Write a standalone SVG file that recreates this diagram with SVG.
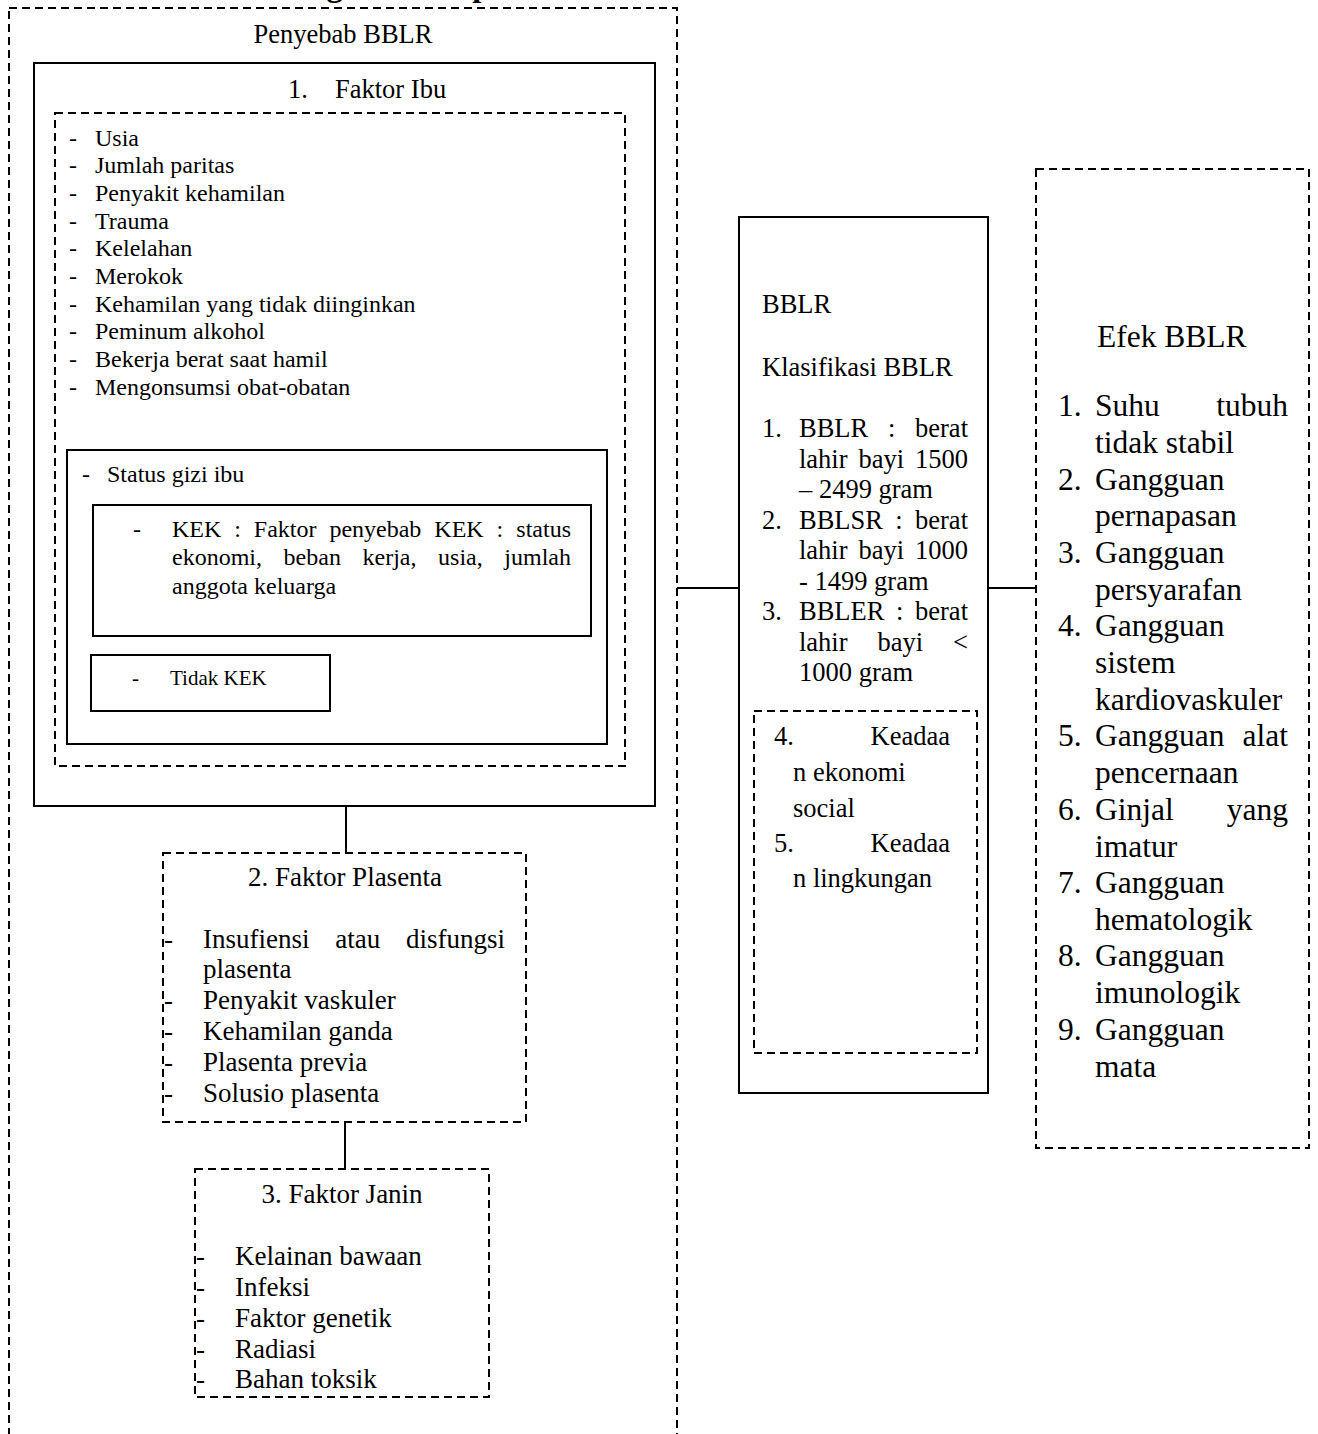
<svg xmlns="http://www.w3.org/2000/svg" width="1318" height="1434" viewBox="0 0 1318 1434">
<style>
text{font-family:"Liberation Serif","Times New Roman",serif;fill:#000}
.solid{fill:none;stroke:#000;stroke-width:2}
.dash{fill:none;stroke:#000;stroke-width:2;stroke-dasharray:8 5}
.conn{stroke:#000;stroke-width:2;fill:none}
.f24{font-size:24px}
.f265{font-size:26.5px}
.f27{font-size:27px}
.f21{font-size:21px}
.f315{font-size:31.5px}
.mid{text-anchor:middle}
.end{text-anchor:end}
</style>
<rect width="1318" height="1434" fill="#fff"/>
<text x="364" y="-4" class="mid" style="font-size:32.6px;font-weight:bold">Kerangka Konsep</text>

<g id="penyebab">
<rect class="dash" x="9" y="8" width="668" height="1450"/>
<text x="343" y="43" class="mid f265">Penyebab BBLR</text>
</g>

<g id="faktor-ibu">
<rect class="solid" x="34" y="63" width="621" height="743"/>
<text x="288" y="98" class="f265">1.</text>
<text x="335" y="98" class="f265">Faktor Ibu</text>
<rect class="dash" x="55" y="113" width="570" height="653"/>
<g class="f24">
<text x="69" y="145.5">-</text><text x="95" y="145.5">Usia</text>
<text x="69" y="173.2">-</text><text x="95" y="173.2">Jumlah paritas</text>
<text x="69" y="200.9">-</text><text x="95" y="200.9">Penyakit kehamilan</text>
<text x="69" y="228.6">-</text><text x="95" y="228.6">Trauma</text>
<text x="69" y="256.3">-</text><text x="95" y="256.3">Kelelahan</text>
<text x="69" y="284">-</text><text x="95" y="284">Merokok</text>
<text x="69" y="311.7">-</text><text x="95" y="311.7">Kehamilan yang tidak diinginkan</text>
<text x="69" y="339.4">-</text><text x="95" y="339.4">Peminum alkohol</text>
<text x="69" y="367.1">-</text><text x="95" y="367.1">Bekerja berat saat hamil</text>
<text x="69" y="394.8">-</text><text x="95" y="394.8">Mengonsumsi obat-obatan</text>
</g>
</g>

<g id="status-gizi">
<rect class="solid" x="67" y="450" width="540" height="294"/>
<text x="82" y="482" class="f24">-</text>
<text x="107" y="482" class="f24">Status gizi ibu</text>
</g>

<g id="kek">
<rect class="solid" x="93" y="505" width="498" height="131"/>
<g class="f24">
<text x="133" y="537">-</text>
<text x="172" y="537">KEK</text>
<text x="234.2" y="537">:</text>
<text x="253.8" y="537">Faktor</text>
<text x="329.4" y="537">penyebab</text>
<text x="434.3" y="537">KEK</text>
<text x="496.5" y="537">:</text>
<text x="571" y="537" class="end">status</text>
<text x="172" y="565">ekonomi,</text>
<text x="283.6" y="565">beban</text>
<text x="362.5" y="565">kerja,</text>
<text x="438.1" y="565">usia,</text>
<text x="571" y="565" class="end">jumlah</text>
<text x="172" y="594">anggota keluarga</text>
</g>
</g>

<g id="tidak-kek">
<rect class="solid" x="91" y="655" width="239" height="56"/>
<text x="132" y="685" class="f21">-</text>
<text x="170" y="685" class="f21">Tidak KEK</text>
</g>

<g id="faktor-plasenta">
<rect class="dash" x="163" y="853" width="363" height="269"/>
<text x="345" y="886" class="mid f27">2. Faktor Plasenta</text>
<g class="f27">
<text x="164" y="948">-</text>
<text x="203" y="948">Insufiensi</text>
<text x="335.3" y="948">atau</text>
<text x="505" y="948" class="end">disfungsi</text>
<text x="203" y="978">plasenta</text>
<text x="164" y="1009">-</text><text x="203" y="1009">Penyakit vaskuler</text>
<text x="164" y="1040">-</text><text x="203" y="1040">Kehamilan ganda</text>
<text x="164" y="1071">-</text><text x="203" y="1071">Plasenta previa</text>
<text x="164" y="1102">-</text><text x="203" y="1102">Solusio plasenta</text>
</g>
</g>

<g id="faktor-janin">
<rect class="dash" x="195" y="1169" width="294" height="228"/>
<text x="342" y="1203" class="mid f27">3. Faktor Janin</text>
<g class="f27">
<text x="196" y="1265">-</text><text x="235" y="1265">Kelainan bawaan</text>
<text x="196" y="1296">-</text><text x="235" y="1296">Infeksi</text>
<text x="196" y="1327">-</text><text x="235" y="1327">Faktor genetik</text>
<text x="196" y="1358">-</text><text x="235" y="1358">Radiasi</text>
<text x="196" y="1388">-</text><text x="235" y="1388">Bahan toksik</text>
</g>
</g>

<g id="bblr">
<rect class="solid" x="739" y="217" width="249" height="876"/>
<g class="f265">
<text x="762" y="313">BBLR</text>
<text x="762" y="376">Klasifikasi BBLR</text>
<text x="762" y="437">1.</text>
<text x="799" y="437">BBLR</text>
<text x="887.9" y="437">:</text>
<text x="968" y="437" class="end">berat</text>
<text x="799" y="467.5">lahir</text>
<text x="858.5" y="467.5">bayi</text>
<text x="968" y="467.5" class="end">1500</text>
<text x="799" y="498">– 2499 gram</text>
<text x="762" y="528.5">2.</text>
<text x="799" y="528.5">BBLSR</text>
<text x="895.3" y="528.5">:</text>
<text x="968" y="528.5" class="end">berat</text>
<text x="799" y="559">lahir</text>
<text x="858.5" y="559">bayi</text>
<text x="968" y="559" class="end">1000</text>
<text x="799" y="589.5">- 1499 gram</text>
<text x="762" y="620">3.</text>
<text x="799" y="620">BBLER</text>
<text x="896" y="620">:</text>
<text x="968" y="620" class="end">berat</text>
<text x="799" y="650.5">lahir</text>
<text x="877.5" y="650.5">bayi</text>
<text x="968" y="650.5" class="end">&lt;</text>
<text x="799" y="681">1000 gram</text>
</g>
</g>

<g id="bblr-lain">
<rect class="dash" x="754" y="711" width="223" height="342"/>
<g class="f265">
<text x="774" y="745">4.</text>
<text x="950" y="745" class="end">Keadaa</text>
<text x="793" y="781">n ekonomi</text>
<text x="793" y="817">social</text>
<text x="774" y="852">5.</text>
<text x="950" y="852" class="end">Keadaa</text>
<text x="793" y="887">n lingkungan</text>
</g>
</g>

<g id="efek">
<rect class="dash" x="1036" y="169" width="273" height="979"/>
<text x="1097" y="347" class="f315">Efek BBLR</text>
<g class="f315">
<text x="1058" y="416">1.</text>
<text x="1095" y="416">Suhu</text>
<text x="1288" y="416" class="end">tubuh</text>
<text x="1095" y="453">tidak stabil</text>
<text x="1058" y="490">2.</text>
<text x="1095" y="490">Gangguan</text>
<text x="1095" y="526">pernapasan</text>
<text x="1058" y="563">3.</text>
<text x="1095" y="563">Gangguan</text>
<text x="1095" y="600">persyarafan</text>
<text x="1058" y="636">4.</text>
<text x="1095" y="636">Gangguan</text>
<text x="1095" y="673">sistem</text>
<text x="1095" y="710">kardiovaskuler</text>
<text x="1058" y="746">5.</text>
<text x="1095" y="746">Gangguan</text>
<text x="1288" y="746" class="end">alat</text>
<text x="1095" y="783">pencernaan</text>
<text x="1058" y="820">6.</text>
<text x="1095" y="820">Ginjal</text>
<text x="1288" y="820" class="end">yang</text>
<text x="1095" y="857">imatur</text>
<text x="1058" y="893">7.</text>
<text x="1095" y="893">Gangguan</text>
<text x="1095" y="930">hematologik</text>
<text x="1058" y="966">8.</text>
<text x="1095" y="966">Gangguan</text>
<text x="1095" y="1003">imunologik</text>
<text x="1058" y="1040">9.</text>
<text x="1095" y="1040">Gangguan</text>
<text x="1095" y="1077">mata</text>
</g>
</g>

<g id="connectors">
<line class="conn" x1="346" y1="806" x2="346" y2="853"/>
<line class="conn" x1="345" y1="1122" x2="345" y2="1169"/>
<line class="conn" x1="677" y1="588" x2="739" y2="588"/>
<line class="conn" x1="988" y1="588" x2="1036" y2="588"/>
</g>
</svg>
